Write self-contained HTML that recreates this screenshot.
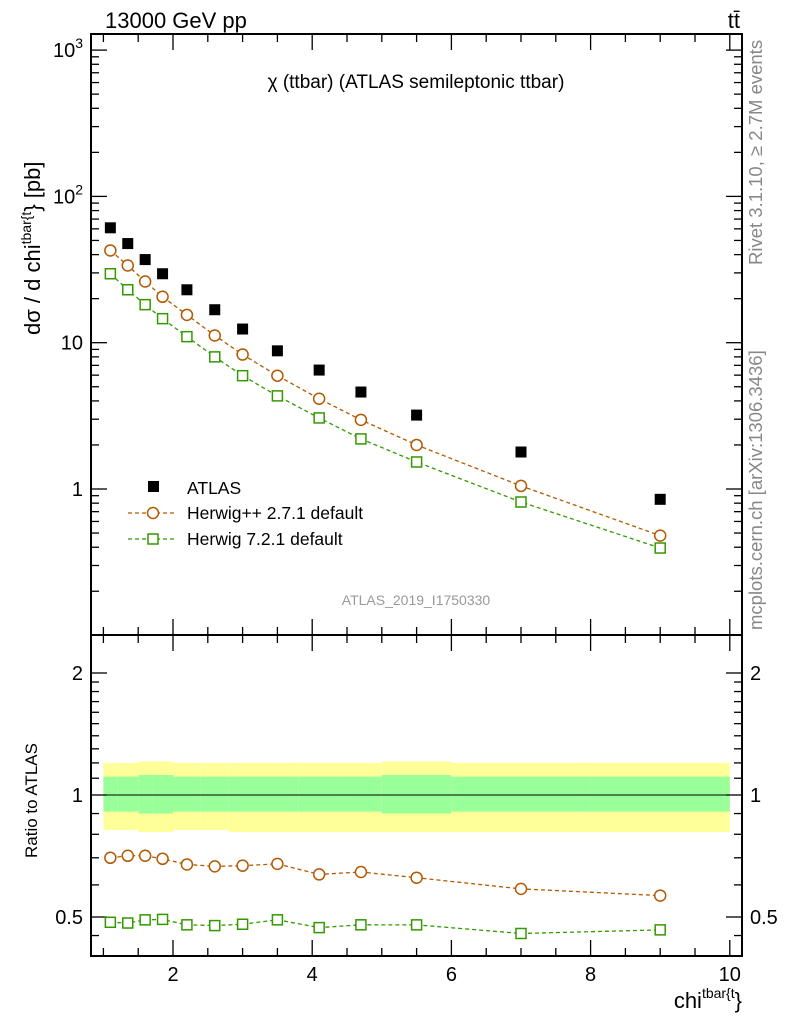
<!DOCTYPE html>
<html><head><meta charset="utf-8"><style>
body{margin:0;background:#fff}
svg text{font-family:"Liberation Sans",sans-serif}
</style></head><body>
<svg id="c" width="786" height="1024" viewBox="0 0 786 1024" xmlns="http://www.w3.org/2000/svg">
<text x="105" y="28" font-size="22">13000 GeV pp</text>
<text x="740" y="28" font-size="22" text-anchor="end">tt̄</text>
<text x="416" y="88" font-size="19" text-anchor="middle">χ (ttbar) (ATLAS semileptonic ttbar)</text>
<text x="416" y="605" font-size="14" fill="#999" text-anchor="middle">ATLAS_2019_I1750330</text>
<text transform="translate(762,265) rotate(-90)" font-size="18.5" fill="#888">Rivet 3.1.10, ≥ 2.7M events</text>
<text transform="translate(762,630) rotate(-90)" font-size="18.5" fill="#888">mcplots.cern.ch [arXiv:1306.3436]</text>
<text transform="translate(40,335) rotate(-90)" font-size="22">dσ / d chi<tspan font-size="14" dy="-9">tbar{t</tspan><tspan dy="9">} [pb]</tspan></text>
<text transform="translate(37,858) rotate(-90)" font-size="17">Ratio to ATLAS</text>
<text x="742" y="1008" font-size="22" text-anchor="end">chi<tspan font-size="14" dy="-10">tbar{t</tspan><tspan dy="10">}</tspan></text>
<g id="g"></g>
</svg>
<script>
const xCenters=[1.1,1.35,1.6,1.85,2.2,2.6,3.0,3.5,4.1,4.7,5.5,7.0,9.0];
const binEdges=[1.0,1.2,1.5,1.7,2.0,2.4,2.8,3.2,3.8,4.4,5.0,6.0,8.0,10.0];
const atlas=[61,47.6,37,29.6,23,16.8,12.4,8.8,6.5,4.6,3.2,1.79,0.85];
const herwigpp=[42.7,33.7,26.2,20.6,15.5,11.2,8.3,5.95,4.14,2.97,2.0,1.05,0.48];
const herwig7=[29.6,23,18.2,14.6,11,8.0,5.95,4.33,3.06,2.2,1.53,0.815,0.395];
const bandYellowUp=[1.2,1.2,1.21,1.21,1.2,1.2,1.2,1.2,1.2,1.2,1.21,1.2,1.2];
const bandYellowDn=[0.82,0.82,0.81,0.81,0.82,0.82,0.81,0.81,0.81,0.81,0.81,0.81,0.81];
const bandGreenUp=[1.11,1.11,1.12,1.12,1.11,1.11,1.11,1.11,1.11,1.11,1.12,1.11,1.11];
const bandGreenDn=[0.91,0.91,0.9,0.9,0.91,0.91,0.91,0.91,0.91,0.91,0.9,0.91,0.91];
const xTicks=[2,4,6,8,10];
const yTicksMain=[1,10,100,1000];
const yTickLabelsMain=["1","10","10²","10³"];
const ratioTicks=[0.5,1,2];
const ratioTickLabels=["0.5","1","2"];

const L=91,R=742,T=34,M=635,B=956;
const X=v=>173+(v-2)*69.6;
const Y=v=>489-Math.log10(v)*146.3;
const RY=v=>795-Math.log2(v)*122;
const g=document.getElementById('g');
const NS='http://www.w3.org/2000/svg';
function el(t,a,p){const e=document.createElementNS(NS,t);for(const k in a)e.setAttribute(k,a[k]);(p||g).appendChild(e);return e;}

for(let i=0;i<xCenters.length;i++){
  const x0=X(binEdges[i]),x1=X(binEdges[i+1]);
  const y=el('rect',{x:x0,y:RY(bandYellowUp[i]),width:x1-x0,height:RY(bandYellowDn[i])-RY(bandYellowUp[i]),fill:'#ffff99'});
  
  
  const gr=el('rect',{x:x0,y:RY(bandGreenUp[i]),width:x1-x0,height:RY(bandGreenDn[i])-RY(bandGreenUp[i]),fill:'#99ff99'});
  
  
}
const one=el('line',{x1:X(binEdges[0]),x2:X(binEdges[binEdges.length-1]),y1:RY(1),y2:RY(1),stroke:'#000','stroke-width':1});



const f1=el('rect',{x:L,y:T,width:R-L,height:M-T,fill:'none',stroke:'#000','stroke-width':2});


const f2=el('rect',{x:L,y:M,width:R-L,height:B-M,fill:'none',stroke:'#000','stroke-width':2});



for(let v=1;v<=10.01;v+=0.5){
  const maj=Math.abs(v-Math.round(v/2)*2)<1e-6;
  const len=maj?16:8;
  [[T,1],[M,1],[M,-1],[B,-1]].forEach(([y0,d])=>{el('line',{x1:X(v),x2:X(v),y1:y0,y2:y0+d*len,stroke:'#000','stroke-width':1.3});});
}
xTicks.forEach(v=>{const t=el('text',{x:X(v),y:B+25,'font-size':20,'text-anchor':'middle'});t.textContent=v;

});

for(let e=-1;e<=3;e++){for(let m=1;m<10;m++){const v=m*Math.pow(10,e);const y=Y(v);if(y<T||y>M)continue;const len=m==1?16:8;
el('line',{x1:L,x2:L+len,y1:y,y2:y,stroke:'#000','stroke-width':1.3});el('line',{x1:R,x2:R-len,y1:y,y2:y,stroke:'#000','stroke-width':1.3});}}
yTicksMain.forEach((v,i)=>{const t=el('text',{x:L-8,y:Y(v)+7,'font-size':20,'text-anchor':'end'});
if(v>=100){t.textContent='10';const s=el('tspan',{'font-size':14,dy:-9},t);s.textContent=String(Math.log10(v));}else t.textContent=yTickLabelsMain[i];

});

const rmin=[0.5,0.6,0.7,0.8,0.9,1,1.1,1.2,1.3,1.4,1.5,1.6,1.7,1.8,1.9,2,2.5];
rmin.forEach(v=>{const y=RY(v);if(y<M||y>B)return;const len=ratioTicks.includes(v)?16:8;
el('line',{x1:L,x2:L+len,y1:y,y2:y,stroke:'#000','stroke-width':1.3});el('line',{x1:R,x2:R-len,y1:y,y2:y,stroke:'#000','stroke-width':1.3});});
[0.4,0.45].forEach(v=>{const y=RY(v);if(y<B){el('line',{x1:L,x2:L+8,y1:y,y2:y,stroke:'#000','stroke-width':1.3});el('line',{x1:R,x2:R-8,y1:y,y2:y,stroke:'#000','stroke-width':1.3});}});
ratioTicks.forEach((v,i)=>{[[L-8,'end'],[R+8,'start']].forEach(([x,a])=>{const t=el('text',{x:x,y:RY(v)+7,'font-size':20,'text-anchor':a});t.textContent=ratioTickLabels[i];

});});

function series(vals,col,shape,yf,name){
  const pts=vals.map((v,i)=>[X(xCenters[i]),yf(v,i)]);
  const pl=el('polyline',{points:pts.map(p=>p.join(',')).join(' '),fill:'none',stroke:col,'stroke-width':1.3,'stroke-dasharray':'4,3'});
  
  
  pts.forEach(p=>{let m;
    if(shape=='c')m=el('circle',{cx:p[0],cy:p[1],r:5.5,fill:'#fff',stroke:col,'stroke-width':1.5});
    else m=el('rect',{x:p[0]-5,y:p[1]-5,width:10,height:10,fill:'#fff',stroke:col,'stroke-width':1.5});
    
    });
}
series(herwigpp,'#b35900','c',v=>Y(v),'herwigpp');
series(herwig7,'#339900','s',v=>Y(v),'herwig7');
series(herwigpp,'#b35900','c',(v,i)=>RY(v/atlas[i]),'herwigpp-ratio');
series(herwig7,'#339900','s',(v,i)=>RY(v/atlas[i]),'herwig7-ratio');
atlas.forEach((v,i)=>{const m=el('rect',{x:X(xCenters[i])-5.5,y:Y(v)-5.5,width:11,height:11,fill:'#000'});

});

const lg=el('g',{});


el('rect',{x:148,y:481,width:11,height:11,fill:'#000'},lg);
const t1=el('text',{x:187,y:494,'font-size':17.5},lg);t1.textContent='ATLAS';
el('line',{x1:128,x2:176,y1:513,y2:513,stroke:'#b35900','stroke-width':1.3,'stroke-dasharray':'4,3'},lg);
el('circle',{cx:153,cy:513,r:5.5,fill:'#fff',stroke:'#b35900','stroke-width':1.5},lg);
const t2=el('text',{x:187,y:519,'font-size':17.5},lg);t2.textContent='Herwig++ 2.7.1 default';
el('line',{x1:128,x2:176,y1:539,y2:539,stroke:'#339900','stroke-width':1.3,'stroke-dasharray':'4,3'},lg);
el('rect',{x:148,y:534,width:10,height:10,fill:'#fff',stroke:'#339900','stroke-width':1.5},lg);
const t3=el('text',{x:187,y:545,'font-size':17.5},lg);t3.textContent='Herwig 7.2.1 default';
</script>
</body></html>
